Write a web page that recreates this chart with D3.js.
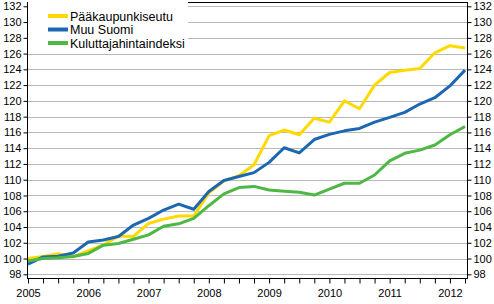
<!DOCTYPE html>
<html>
<head>
<meta charset="utf-8">
<script src="https://cdn.jsdelivr.net/npm/d3@7"></script>
<style>
  body { margin: 0; background: #fff; }
  svg { display: block; font-family: "Liberation Sans", Arial, sans-serif; }
  .axis text { font-size: 11px; fill: #000; }
  .axis line { stroke: #000; }
</style>
</head>
<body>
<svg id="chart"></svg>
<script>
// quarterly index, 2005 = 100, 2005Q1 .. 2012Q2
const years = [2005, 2006, 2007, 2008, 2009, 2010, 2011, 2012];
const seriesNames = ['Pääkaupunkiseutu', 'Muu Suomi', 'Kuluttajahintaindeksi'];
const seriesColors = ['#ffd900', '#1b67b2', '#4db843'];

const paakaupunkiseutu = [100.0, 100.25, 100.6, 100.2, 101.0, 101.7, 102.85, 102.8,
  104.45, 105.0, 105.4, 105.4, 108.3, 109.85, 110.5, 111.9, 115.6, 116.3, 115.7, 117.8,
  117.3, 120.0, 119.0, 122.0, 123.6, 123.9, 124.1, 126.1, 127.0, 126.7];
const muuSuomi = [99.3, 100.2, 100.3, 100.7, 102.1, 102.35, 102.8, 104.25,
  105.1, 106.15, 106.9, 106.25, 108.5, 109.9, 110.4, 110.9, 112.2, 114.05, 113.4, 115.1,
  115.75, 116.2, 116.5, 117.3, 117.9, 118.55, 119.6, 120.4, 121.9, 123.9];
const kuluttajahinta = [99.7, 100.0, 100.1, 100.25, 100.65, 101.7, 101.9, 102.45,
  103.0, 104.1, 104.4, 105.1, 106.7, 108.2, 109.0, 109.15, 108.7, 108.55, 108.4, 108.05,
  108.8, 109.55, 109.55, 110.6, 112.4, 113.35, 113.75, 114.4, 115.7, 116.75];

const series = [paakaupunkiseutu, muuSuomi, kuluttajahinta];

const w = 494, h = 304;
const plotLeft = 27, plotRight = 467, plotTop = 2, plotBottom = 278;

const svg = d3.select('#chart').attr('width', w).attr('height', h);

const xScale = d3.scaleLinear()
  .domain([0, paakaupunkiseutu.length - 1])
  .range([28, 465]);

const yScale = d3.scaleLinear()
  .domain([98, 132])
  .range([274.3, 6.3]);

const yTicks = d3.range(98, 133, 2);

// gridlines
svg.append('g')
  .selectAll('line')
  .data(yTicks)
  .enter()
  .append('line')
  .attr('x1', plotLeft)
  .attr('x2', plotRight)
  .attr('y1', (d) => Math.round(yScale(d)) + 0.5)
  .attr('y2', (d) => Math.round(yScale(d)) + 0.5)
  .attr('stroke', '#b8b8b8')
  .attr('stroke-width', 1);

// lines
const line = d3.line()
  .x((d, i) => xScale(i))
  .y((d) => yScale(d));

svg.append('g')
  .selectAll('path')
  .data(series)
  .enter()
  .append('path')
  .attr('d', line)
  .attr('fill', 'none')
  .attr('stroke', (d, i) => seriesColors[i])
  .attr('stroke-width', 3)
  .attr('stroke-linejoin', 'round');

// frame
svg.append('line')
  .attr('x1', plotLeft).attr('x2', plotRight)
  .attr('y1', plotTop + 0.5).attr('y2', plotTop + 0.5)
  .attr('stroke', '#000');

// axes
const yAxisLeft = d3.axisLeft(yScale).tickValues(yTicks).tickSize(4).tickPadding(2);
const yAxisRight = d3.axisRight(yScale).tickValues(yTicks).tickSize(4).tickPadding(2);

svg.append('g')
  .attr('class', 'axis')
  .attr('transform', `translate(${plotLeft + 0.5},0)`)
  .call(yAxisLeft)
  .call((g) => g.select('.domain').remove());

svg.append('g')
  .attr('class', 'axis')
  .attr('transform', `translate(${plotRight + 0.5},0)`)
  .call(yAxisRight)
  .call((g) => g.select('.domain').remove());

svg.append('line')
  .attr('x1', plotLeft + 0.5).attr('x2', plotLeft + 0.5)
  .attr('y1', plotTop).attr('y2', plotBottom)
  .attr('stroke', '#000');
svg.append('line')
  .attr('x1', plotRight + 0.5).attr('x2', plotRight + 0.5)
  .attr('y1', plotTop).attr('y2', plotBottom)
  .attr('stroke', '#000');

const xAxis = d3.axisBottom(xScale)
  .tickValues(d3.range(0, paakaupunkiseutu.length))
  .tickSize(5)
  .tickPadding(6)
  .tickFormat((d) => (d % 4 === 0 ? years[d / 4] : ''));

svg.append('g')
  .attr('class', 'axis')
  .attr('transform', `translate(0,${plotBottom + 0.5})`)
  .call(xAxis)
  .call((g) => g.select('.domain').remove());

svg.append('line')
  .attr('x1', plotLeft).attr('x2', plotRight + 1)
  .attr('y1', plotBottom + 0.5).attr('y2', plotBottom + 0.5)
  .attr('stroke', '#000');

// legend
const legend = svg.append('g');
legend.append('rect')
  .attr('x', plotLeft + 1).attr('y', 0)
  .attr('width', 160).attr('height', 51)
  .attr('fill', '#fff');

const rows = legend.selectAll('g.row')
  .data(seriesNames)
  .enter()
  .append('g')
  .attr('class', 'row')
  .attr('transform', (d, i) => `translate(48,${16 + i * 13.5})`);

rows.append('line')
  .attr('x1', 0).attr('x2', 20)
  .attr('stroke', (d, i) => seriesColors[i])
  .attr('stroke-width', 4);

rows.append('text')
  .attr('x', 22)
  .attr('dy', '0.36em')
  .attr('font-size', '12.5px')
  .text((d) => d);
</script>
</body>
</html>
